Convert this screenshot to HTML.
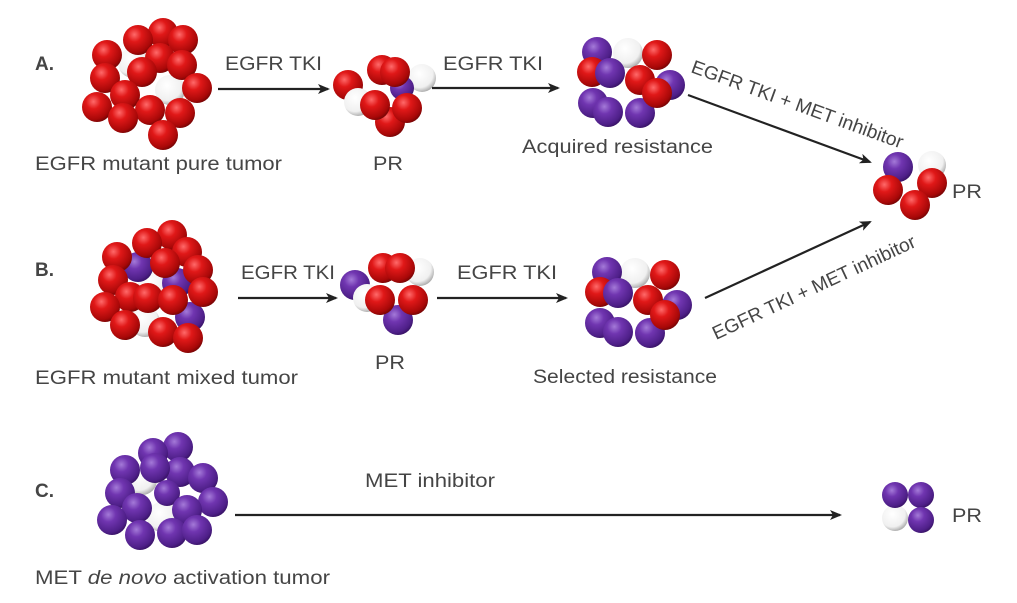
<!DOCTYPE html>
<html><head><meta charset="utf-8"><style>
html,body{margin:0;padding:0;background:#fff;}
svg{display:block;}
text{font-family:"Liberation Sans",Arial,sans-serif;fill:#454545;font-size:19px;}
</style></head><body>
<svg width="1017" height="603" viewBox="0 0 1017 603" xmlns="http://www.w3.org/2000/svg">
<defs>
<radialGradient id="r" cx="0.38" cy="0.32" r="0.7"><stop offset="0" stop-color="#ff6a6a"/><stop offset="0.35" stop-color="#e01818"/><stop offset="0.85" stop-color="#a80808"/><stop offset="1" stop-color="#7a0505"/></radialGradient>
<radialGradient id="p" cx="0.38" cy="0.32" r="0.7"><stop offset="0" stop-color="#a47ad8"/><stop offset="0.35" stop-color="#7035b0"/><stop offset="0.85" stop-color="#4e1f88"/><stop offset="1" stop-color="#3a1468"/></radialGradient>
<radialGradient id="w" cx="0.4" cy="0.35" r="0.7"><stop offset="0" stop-color="#ffffff"/><stop offset="0.7" stop-color="#f0f0f0"/><stop offset="1" stop-color="#a0a0a0"/></radialGradient>
<marker id="ah" markerWidth="12" markerHeight="10" refX="10" refY="5" orient="auto" markerUnits="userSpaceOnUse"><path d="M0,0 L12,5 L0,10 L3,5 Z" fill="#222"/></marker>
</defs>

<!-- A1 -->
<g>
<circle cx="133" cy="63" r="15" fill="url(#w)"/><circle cx="170" cy="90" r="15" fill="url(#w)"/>
<circle cx="163" cy="33" r="15" fill="url(#r)"/><circle cx="138" cy="40" r="15" fill="url(#r)"/><circle cx="183" cy="40" r="15" fill="url(#r)"/>
<circle cx="107" cy="55" r="15" fill="url(#r)"/><circle cx="160" cy="58" r="15" fill="url(#r)"/><circle cx="182" cy="65" r="15" fill="url(#r)"/>
<circle cx="142" cy="72" r="15" fill="url(#r)"/><circle cx="105" cy="78" r="15" fill="url(#r)"/><circle cx="197" cy="88" r="15" fill="url(#r)"/>
<circle cx="125" cy="95" r="15" fill="url(#r)"/><circle cx="97" cy="107" r="15" fill="url(#r)"/><circle cx="150" cy="110" r="15" fill="url(#r)"/>
<circle cx="180" cy="113" r="15" fill="url(#r)"/><circle cx="123" cy="118" r="15" fill="url(#r)"/><circle cx="163" cy="135" r="15" fill="url(#r)"/>
</g>
<!-- A2 -->
<g>
<circle cx="422" cy="78" r="14" fill="url(#w)"/><circle cx="402" cy="88" r="12" fill="url(#p)"/>
<circle cx="382" cy="70" r="15" fill="url(#r)"/><circle cx="395" cy="72" r="15" fill="url(#r)"/>
<circle cx="348" cy="85" r="15" fill="url(#r)"/><circle cx="358" cy="102" r="14" fill="url(#w)"/>
<circle cx="390" cy="122" r="15" fill="url(#r)"/><circle cx="375" cy="105" r="15" fill="url(#r)"/><circle cx="407" cy="108" r="15" fill="url(#r)"/>
</g>
<!-- A3 -->
<g>
<circle cx="628" cy="53" r="15" fill="url(#w)"/><circle cx="597" cy="52" r="15" fill="url(#p)"/><circle cx="657" cy="55" r="15" fill="url(#r)"/>
<circle cx="593" cy="103" r="15" fill="url(#p)"/><circle cx="608" cy="112" r="15" fill="url(#p)"/><circle cx="640" cy="113" r="15" fill="url(#p)"/>
<circle cx="670" cy="85" r="15" fill="url(#p)"/>
<circle cx="592" cy="72" r="15" fill="url(#r)"/><circle cx="610" cy="73" r="15" fill="url(#p)"/><circle cx="640" cy="80" r="15" fill="url(#r)"/><circle cx="657" cy="93" r="15" fill="url(#r)"/>
</g>
<!-- Final PR -->
<g>
<circle cx="898" cy="167" r="15" fill="url(#p)"/><circle cx="932" cy="165" r="14" fill="url(#w)"/>
<circle cx="888" cy="190" r="15" fill="url(#r)"/><circle cx="932" cy="183" r="15" fill="url(#r)"/><circle cx="915" cy="205" r="15" fill="url(#r)"/>
</g>
<!-- B1 -->
<g>
<circle cx="153" cy="285" r="15" fill="url(#w)"/><circle cx="145" cy="322" r="15" fill="url(#w)"/>
<circle cx="138" cy="267" r="15" fill="url(#p)"/><circle cx="177" cy="283" r="15" fill="url(#p)"/><circle cx="190" cy="317" r="15" fill="url(#p)"/>
<circle cx="172" cy="235" r="15" fill="url(#r)"/><circle cx="147" cy="243" r="15" fill="url(#r)"/><circle cx="117" cy="257" r="15" fill="url(#r)"/>
<circle cx="187" cy="252" r="15" fill="url(#r)"/><circle cx="165" cy="263" r="15" fill="url(#r)"/><circle cx="198" cy="270" r="15" fill="url(#r)"/>
<circle cx="113" cy="280" r="15" fill="url(#r)"/><circle cx="203" cy="292" r="15" fill="url(#r)"/><circle cx="130" cy="297" r="15" fill="url(#r)"/>
<circle cx="148" cy="298" r="15" fill="url(#r)"/><circle cx="173" cy="300" r="15" fill="url(#r)"/><circle cx="105" cy="307" r="15" fill="url(#r)"/>
<circle cx="125" cy="325" r="15" fill="url(#r)"/><circle cx="163" cy="332" r="15" fill="url(#r)"/><circle cx="188" cy="338" r="15" fill="url(#r)"/>
</g>
<!-- B2 -->
<g>
<circle cx="420" cy="272" r="14" fill="url(#w)"/><circle cx="355" cy="285" r="15" fill="url(#p)"/>
<circle cx="383" cy="268" r="15" fill="url(#r)"/><circle cx="400" cy="268" r="15" fill="url(#r)"/>
<circle cx="367" cy="298" r="14" fill="url(#w)"/><circle cx="398" cy="320" r="15" fill="url(#p)"/>
<circle cx="380" cy="300" r="15" fill="url(#r)"/><circle cx="413" cy="300" r="15" fill="url(#r)"/>
</g>
<!-- B3 -->
<g>
<circle cx="635" cy="273" r="15" fill="url(#w)"/><circle cx="607" cy="272" r="15" fill="url(#p)"/><circle cx="665" cy="275" r="15" fill="url(#r)"/>
<circle cx="600" cy="323" r="15" fill="url(#p)"/><circle cx="618" cy="332" r="15" fill="url(#p)"/><circle cx="650" cy="333" r="15" fill="url(#p)"/>
<circle cx="677" cy="305" r="15" fill="url(#p)"/>
<circle cx="600" cy="292" r="15" fill="url(#r)"/><circle cx="618" cy="293" r="15" fill="url(#p)"/><circle cx="648" cy="300" r="15" fill="url(#r)"/><circle cx="665" cy="315" r="15" fill="url(#r)"/>
</g>
<!-- C1 -->
<g>
<circle cx="142" cy="480" r="15" fill="url(#w)"/><circle cx="162" cy="517" r="15" fill="url(#w)"/>
<circle cx="178" cy="447" r="15" fill="url(#p)"/><circle cx="153" cy="453" r="15" fill="url(#p)"/><circle cx="125" cy="470" r="15" fill="url(#p)"/>
<circle cx="180" cy="472" r="15" fill="url(#p)"/><circle cx="203" cy="478" r="15" fill="url(#p)"/><circle cx="155" cy="468" r="15" fill="url(#p)"/>
<circle cx="120" cy="493" r="15" fill="url(#p)"/><circle cx="167" cy="493" r="13" fill="url(#p)"/><circle cx="213" cy="502" r="15" fill="url(#p)"/>
<circle cx="137" cy="508" r="15" fill="url(#p)"/><circle cx="187" cy="510" r="15" fill="url(#p)"/><circle cx="112" cy="520" r="15" fill="url(#p)"/>
<circle cx="140" cy="535" r="15" fill="url(#p)"/><circle cx="172" cy="533" r="15" fill="url(#p)"/><circle cx="197" cy="530" r="15" fill="url(#p)"/>
</g>
<!-- C PR -->
<g>
<circle cx="895" cy="518" r="13" fill="url(#w)"/>
<circle cx="895" cy="495" r="13" fill="url(#p)"/><circle cx="921" cy="495" r="13" fill="url(#p)"/><circle cx="921" cy="520" r="13" fill="url(#p)"/>
</g>

<!-- arrows -->
<g stroke="#222" stroke-width="2.2" fill="none">
<line x1="218" y1="89" x2="328" y2="89" marker-end="url(#ah)"/>
<line x1="432" y1="88" x2="558" y2="88" marker-end="url(#ah)"/>
<line x1="688" y1="95" x2="870" y2="162" marker-end="url(#ah)"/>
<line x1="238" y1="298" x2="336" y2="298" marker-end="url(#ah)"/>
<line x1="437" y1="298" x2="566" y2="298" marker-end="url(#ah)"/>
<line x1="705" y1="298" x2="870" y2="222" marker-end="url(#ah)"/>
<line x1="235" y1="515" x2="840" y2="515" marker-end="url(#ah)"/>
</g>

<!-- labels -->
<text x="35" y="70" font-weight="bold" font-size="18" fill="#333">A.</text>
<text x="225" y="70" textLength="97" lengthAdjust="spacingAndGlyphs">EGFR TKI</text>
<text x="443" y="70" textLength="100" lengthAdjust="spacingAndGlyphs">EGFR TKI</text>
<text x="35" y="170" textLength="247" lengthAdjust="spacingAndGlyphs">EGFR mutant pure tumor</text>
<text x="373" y="170" textLength="30" lengthAdjust="spacingAndGlyphs">PR</text>
<text x="522" y="153" textLength="191" lengthAdjust="spacingAndGlyphs">Acquired resistance</text>
<text x="0" y="0" transform="translate(690,72) rotate(20)" textLength="224" lengthAdjust="spacingAndGlyphs">EGFR TKI + MET inhibitor</text>
<text x="952" y="198" textLength="30" lengthAdjust="spacingAndGlyphs">PR</text>

<text x="35" y="276" font-weight="bold" font-size="18" fill="#333">B.</text>
<text x="241" y="279" textLength="94" lengthAdjust="spacingAndGlyphs">EGFR TKI</text>
<text x="457" y="279" textLength="100" lengthAdjust="spacingAndGlyphs">EGFR TKI</text>
<text x="35" y="384" textLength="263" lengthAdjust="spacingAndGlyphs">EGFR mutant mixed tumor</text>
<text x="375" y="369" textLength="30" lengthAdjust="spacingAndGlyphs">PR</text>
<text x="533" y="383" textLength="184" lengthAdjust="spacingAndGlyphs">Selected resistance</text>
<text x="0" y="0" transform="translate(716,340) rotate(-25)" textLength="222" lengthAdjust="spacingAndGlyphs">EGFR TKI + MET inhibitor</text>

<text x="35" y="497" font-weight="bold" font-size="18" fill="#333">C.</text>
<text x="365" y="487" textLength="130" lengthAdjust="spacingAndGlyphs">MET inhibitor</text>
<text x="952" y="522" textLength="30" lengthAdjust="spacingAndGlyphs">PR</text>
<text x="35" y="584" textLength="295" lengthAdjust="spacingAndGlyphs">MET <tspan font-style="italic">de novo</tspan> activation tumor</text>
</svg>
</body></html>
